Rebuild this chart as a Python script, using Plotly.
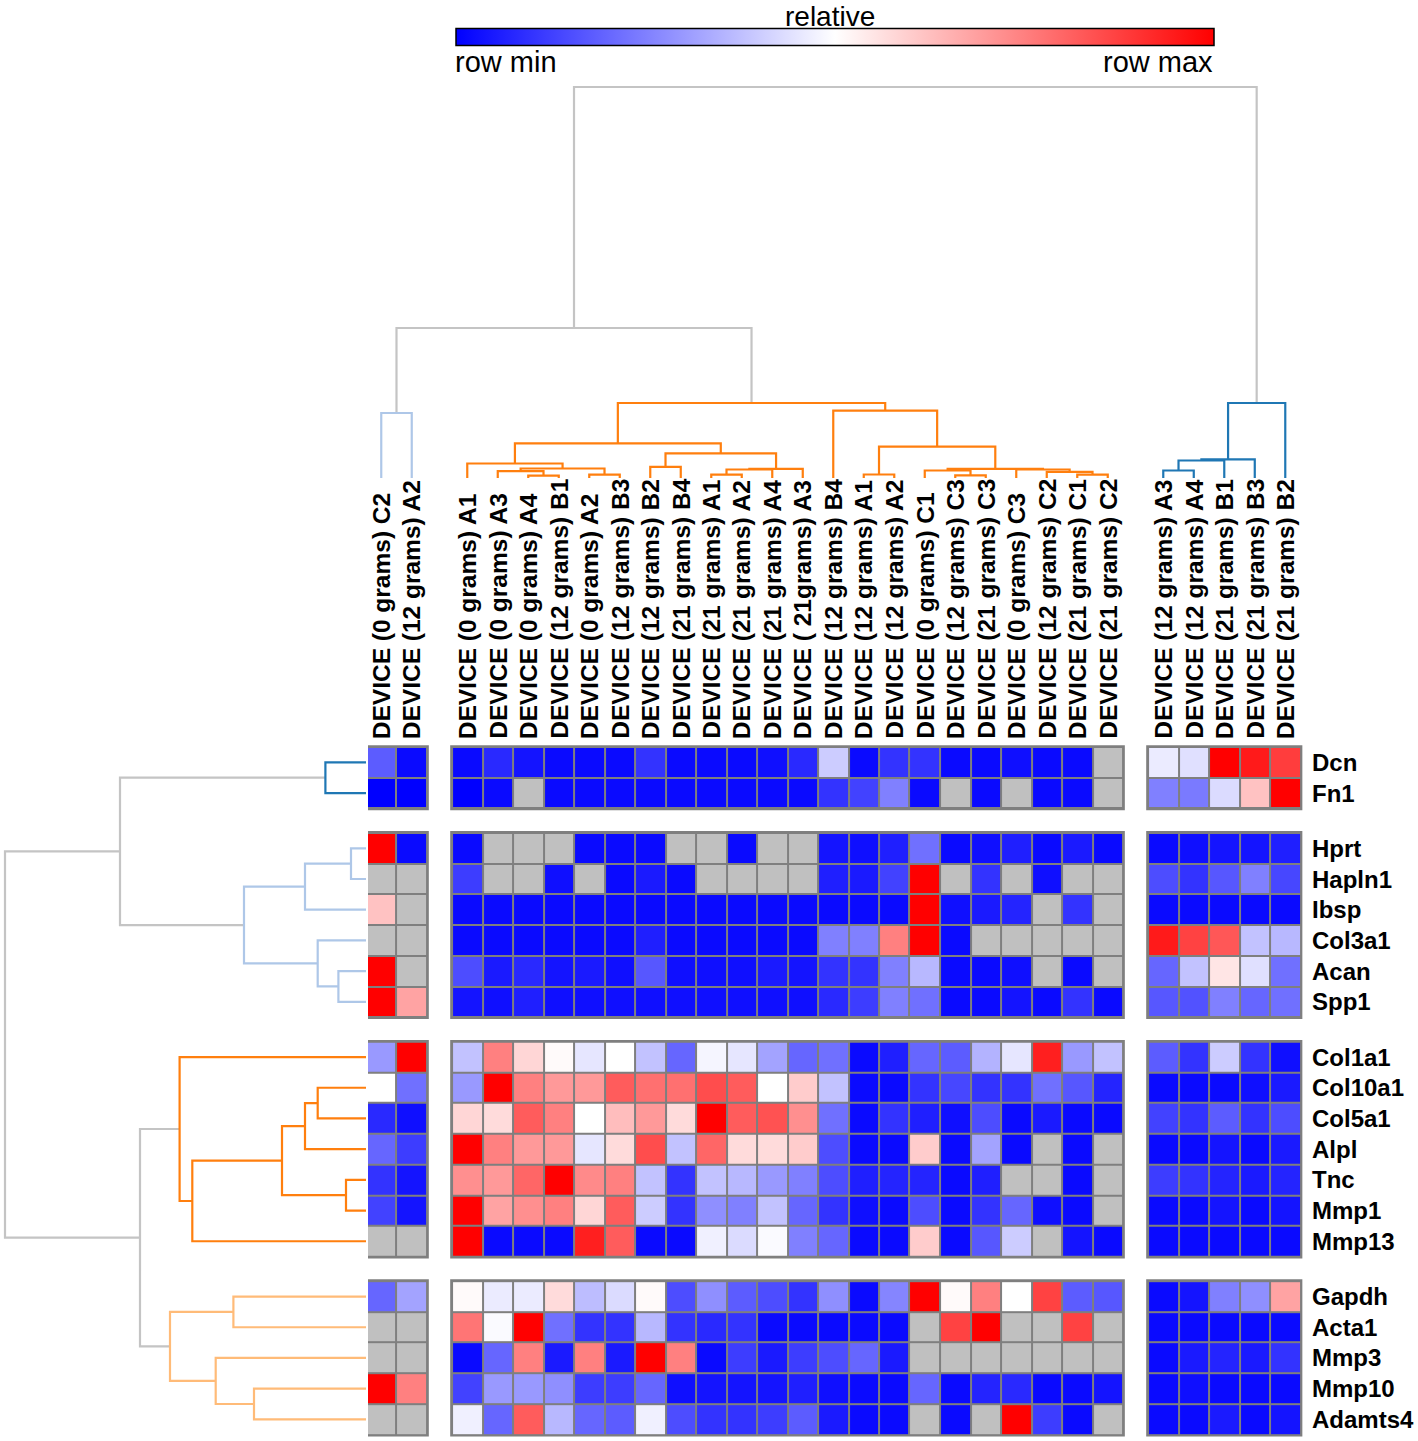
import plotly.graph_objects as go

W, H = 1418, 1441
N = None

# ---------------- data ----------------
samples = [
    "DEVICE (0 grams) C2", "DEVICE (12 grams) A2",
    "DEVICE (0 grams) A1", "DEVICE (0 grams) A3", "DEVICE (0 grams) A4", "DEVICE (12 grams) B1",
    "DEVICE (0 grams) A2", "DEVICE (12 grams) B3", "DEVICE (12 grams) B2", "DEVICE (21 grams) B4",
    "DEVICE (21 grams) A1", "DEVICE (21 grams) A2", "DEVICE (21 grams) A4", "DEVICE ( 21grams) A3",
    "DEVICE (12 grams) B4", "DEVICE (12 grams) A1", "DEVICE (12 grams) A2", "DEVICE (0 grams) C1",
    "DEVICE (12 grams) C3", "DEVICE (21 grams) C3", "DEVICE (0 grams) C3", "DEVICE (12 grams) C2",
    "DEVICE (21 grams) C1", "DEVICE (21 grams) C2",
    "DEVICE (12 grams) A3", "DEVICE (12 grams) A4", "DEVICE (21 grams) B1", "DEVICE (21 grams) B3",
    "DEVICE (21 grams) B2",
]
col_group = [0] * 2 + [1] * 22 + [2] * 5

genes = ["Dcn", "Fn1", "Hprt", "Hapln1", "Ibsp", "Col3a1", "Acan", "Spp1",
         "Col1a1", "Col10a1", "Col5a1", "Alpl", "Tnc", "Mmp1", "Mmp13",
         "Gapdh", "Acta1", "Mmp3", "Mmp10", "Adamts4"]
row_group = [0] * 2 + [1] * 6 + [2] * 7 + [3] * 5

# relative expression (0 = row min, 1 = row max, None = missing)
dcn = [0.18, 0.02, 0.02, 0.08, 0.04, 0.02, 0.02, 0.02, 0.1, 0.02, 0.02, 0.02, 0.03, 0.08, 0.4, 0.02,
       0.1, 0.1, 0.02, 0.02, 0.03, 0.02, 0.02, N, 0.46, 0.44, 1.0, 0.95, 0.88]
fn1 = [0.0, 0.0, 0.0, 0.02, N, 0.02, 0.02, 0.02, 0.02, 0.02, 0.02, 0.02, 0.02, 0.02, 0.1, 0.13,
       0.25, 0.02, N, 0.02, N, 0.02, 0.02, N, 0.25, 0.24, 0.43, 0.62, 1.0]
hprt = [1.0, 0.02, 0.02, N, N, N, 0.02, 0.02, 0.02, N, N, 0.02, N, N, 0.04, 0.03, 0.06, 0.22,
        0.02, 0.03, 0.06, 0.02, 0.05, 0.02, 0.02, 0.03, 0.04, 0.04, 0.06]
hapln1 = [N, N, 0.12, N, N, 0.03, N, 0.02, 0.05, 0.02, N, N, N, N, 0.06, 0.05, 0.13, 1.0, N, 0.1,
          N, 0.03, N, N, 0.15, 0.1, 0.17, 0.25, 0.14]
ibsp = [0.62, N, 0.02, 0.02, 0.02, 0.02, 0.02, 0.02, 0.02, 0.02, 0.02, 0.02, 0.02, 0.02, 0.02,
        0.02, 0.02, 1.0, 0.03, 0.05, 0.07, N, 0.1, N, 0.02, 0.02, 0.02, 0.02, 0.02]
col3a1 = [N, N, 0.02, 0.02, 0.02, 0.02, 0.02, 0.02, 0.06, 0.02, 0.02, 0.02, 0.02, 0.02, 0.25, 0.25,
          0.75, 1.0, 0.02, N, N, N, N, N, 0.95, 0.87, 0.83, 0.38, 0.36]
acan = [1.0, N, 0.15, 0.05, 0.08, 0.04, 0.05, 0.03, 0.17, 0.03, 0.03, 0.03, 0.05, 0.04, 0.1, 0.1,
        0.25, 0.36, 0.02, 0.02, 0.03, N, 0.02, N, 0.2, 0.38, 0.55, 0.44, 0.22]
spp1 = [1.0, 0.68, 0.04, 0.03, 0.06, 0.03, 0.03, 0.03, 0.03, 0.03, 0.03, 0.03, 0.03, 0.03, 0.08,
        0.12, 0.25, 0.22, 0.02, 0.02, 0.04, 0.02, 0.1, 0.02, 0.17, 0.16, 0.25, 0.2, 0.22]
col1a1 = [0.3, 1.0, 0.38, 0.75, 0.58, 0.51, 0.45, 0.5, 0.38, 0.2, 0.48, 0.45, 0.32, 0.2, 0.22, 0.02,
          0.06, 0.2, 0.18, 0.35, 0.45, 0.94, 0.3, 0.38, 0.18, 0.1, 0.4, 0.1, 0.03]
col10a1 = [0.5, 0.22, 0.3, 1.0, 0.75, 0.7, 0.7, 0.82, 0.78, 0.78, 0.85, 0.82, 0.5, 0.6, 0.38, 0.02,
           0.02, 0.1, 0.14, 0.1, 0.1, 0.22, 0.17, 0.07, 0.02, 0.02, 0.02, 0.03, 0.05]
col5a1 = [0.08, 0.03, 0.58, 0.57, 0.82, 0.75, 0.5, 0.63, 0.7, 0.57, 1.0, 0.82, 0.84, 0.72, 0.22,
          0.02, 0.1, 0.06, 0.03, 0.15, 0.02, 0.05, 0.02, 0.02, 0.13, 0.1, 0.18, 0.1, 0.15]
alpl = [0.2, 0.12, 1.0, 0.75, 0.7, 0.7, 0.45, 0.57, 0.85, 0.38, 0.8, 0.57, 0.57, 0.6, 0.15, 0.02,
        0.02, 0.6, 0.02, 0.32, 0.02, N, 0.02, N, 0.02, 0.02, 0.04, 0.02, 0.05]
tnc = [0.1, 0.04, 0.72, 0.7, 0.8, 1.0, 0.73, 0.75, 0.38, 0.1, 0.38, 0.36, 0.3, 0.25, 0.15, 0.06,
       0.07, 0.07, 0.02, 0.06, N, N, 0.02, N, 0.12, 0.1, 0.07, 0.05, 0.07]
mmp1 = [0.13, 0.04, 1.0, 0.68, 0.72, 0.75, 0.58, 0.82, 0.4, 0.1, 0.28, 0.25, 0.38, 0.2, 0.1, 0.03,
        0.02, 0.15, 0.02, 0.1, 0.2, 0.03, 0.02, N, 0.02, 0.02, 0.04, 0.02, 0.04]
mmp13 = [N, N, 1.0, 0.02, 0.02, 0.02, 0.94, 0.82, 0.02, 0.02, 0.47, 0.43, 0.49, 0.25, 0.2, 0.02,
         0.02, 0.6, 0.02, 0.17, 0.4, N, 0.04, 0.02, 0.02, 0.02, 0.02, 0.02, 0.02]
gapdh = [0.2, 0.32, 0.51, 0.46, 0.46, 0.57, 0.37, 0.43, 0.51, 0.15, 0.28, 0.18, 0.15, 0.1, 0.28,
         0.02, 0.26, 1.0, 0.51, 0.75, 0.5, 0.87, 0.18, 0.17, 0.02, 0.04, 0.25, 0.28, 0.68]
acta1 = [N, N, 0.77, 0.49, 1.0, 0.22, 0.1, 0.1, 0.36, 0.1, 0.08, 0.1, 0.02, 0.02, 0.02, 0.02, 0.02,
         N, 0.87, 1.0, N, N, 0.87, N, 0.02, 0.02, 0.02, 0.02, 0.02]
mmp3 = [N, N, 0.02, 0.2, 0.75, 0.05, 0.75, 0.05, 1.0, 0.75, 0.02, 0.12, 0.05, 0.12, 0.15, 0.2, 0.05,
        N, N, N, N, N, N, N, 0.02, 0.05, 0.07, 0.05, 0.1]
mmp10 = [1.0, 0.75, 0.13, 0.3, 0.3, 0.28, 0.12, 0.12, 0.2, 0.03, 0.04, 0.04, 0.04, 0.06, 0.03, 0.02,
         0.02, 0.2, 0.02, 0.07, 0.08, 0.02, 0.02, 0.04, 0.02, 0.03, 0.02, 0.02, 0.02]
adamts4 = [N, N, 0.47, 0.2, 0.82, 0.36, 0.2, 0.18, 0.47, 0.15, 0.1, 0.1, 0.12, 0.18, 0.05, 0.02,
           0.02, N, 0.02, N, 1.0, 0.12, 0.02, N, 0.02, 0.02, 0.05, 0.02, 0.04]

rows = [dcn, fn1, hprt, hapln1, ibsp, col3a1, acan, spp1, col1a1, col10a1, col5a1, alpl, tnc,
        mmp1, mmp13, gapdh, acta1, mmp3, mmp10, adamts4]

# dendrograms: [height, left, right, cluster]; int = leaf index
col_tree = [391,
            [150,
             [65, 0, 1, "lb"],
             [75,
              [34.7,
               [14.5, 2, [9.5, [6.8, 3, [2.4, 4, 5, "o"], "o"], [3.4, 6, 7, "o"], "o"], "o"],
               [24.6, [11.2, 8, 9, "o"],
                [9.1, [8.5, [3.4, 10, 11, "o"], 12, "o"], 13, "o"], "o"], "o"],
              [67.3, 14,
               [31.3, [3.5, 15, 16, "o"],
                [9.1, [7.5, 17, [2.7, 18, 19, "o"], "o"],
                 [8.5, 20, [6.1, 21, [3.4, 22, 23, "o"], "o"], "o"], "o"], "o"], "o"], "o"],
             "g"],
            [75, [18.6, [17.5, [7.5, 24, 25, "b"], 26, "b"], 27, "b"], 28, "b"],
            "g"]

row_tree = [361,
            [246,
             [40.6, 0, 1, "b"],
             [122, [61, [15, 2, 3, "lb"], 4, "lb"], [48.3, 5, [27.6, 6, 7, "lb"], "lb"], "lb"],
             "g"],
            [226,
             [186.4, 8, [173.7, [84, [61, [48.3, 9, 10, "o"], 11, "o"], [20, 12, 13, "o"], "o"],
                         14, "o"], "o"],
             [196, [132.6, 15, 16, "lo"], [150.3, 17, [112, 18, 19, "lo"], "lo"], "lo"],
             "g"],
            "g"]

# ---------------- style / geometry ----------------
COLORS = {"g": "#c4c4c4", "lb": "#aec7e8", "o": "#ff7f0e", "b": "#1f77b4", "lo": "#ffbb78"}
CELL_W, CELL_H = 30.5, 30.7
GAP_X, GAP_Y = 0.82, 0.8
HM_LEFT, HM_TOP = 366, 747
PAD = 0.1
LABEL_FONT = "Liberation Sans, Arial, sans-serif"
NARROW_FONT = "Liberation Sans Narrow, Arial Narrow, Liberation Sans, Arial, sans-serif"

xpos = [i + GAP_X * g for i, g in enumerate(col_group)]
ypos = [r + GAP_Y * g for r, g in enumerate(row_group)]
x_lo, x_hi = -0.5 - PAD, xpos[-1] + 0.5 + PAD
y_lo, y_hi = -0.5 - PAD, ypos[-1] + 0.5 + PAD
xdom = [(HM_LEFT + (x_lo + 0.5) * CELL_W) / W, (HM_LEFT + (x_hi + 0.5) * CELL_W) / W]
ytop_px = HM_TOP + (y_lo + 0.5) * CELL_H
ybot_px = min(HM_TOP + (y_hi + 0.5) * CELL_H, H)
ydom = [max(0.0, 1 - ybot_px / H), 1 - ytop_px / H]

colorscale = [[0, "#0000ff"], [0.5, "#ffffff"], [1, "#ff0000"]]

fig = go.Figure()
shapes = []
first = True
for cg in sorted(set(col_group)):
    cidx = [i for i, g in enumerate(col_group) if g == cg]
    for rg in sorted(set(row_group)):
        ridx = [r for r, g in enumerate(row_group) if g == rg]
        xs = [xpos[c] for c in cidx]
        ys = [ypos[r] for r in ridx]
        z = [[rows[r][c] for c in cidx] for r in ridx]
        zm = [[1 if rows[r][c] is None else None for c in cidx] for r in ridx]
        e = 0.06
        shapes.append(dict(type="rect", xref="x", yref="y", layer="below",
                           x0=xs[0] - 0.5 - e, x1=xs[-1] + 0.5 + e,
                           y0=ys[0] - 0.5 - e, y1=ys[-1] + 0.5 + e,
                           fillcolor="#7f7f7f", line=dict(width=0)))
        tr = dict(x=xs, y=ys, z=z, zmin=0, zmax=1, colorscale=colorscale, xgap=2, ygap=2,
                  hoverinfo="skip", showscale=first)
        if first:
            tr["colorbar"] = dict(orientation="h", x=835 / W, xanchor="center", y=1 - 47 / H,
                                  yanchor="bottom", len=758 / W, lenmode="fraction",
                                  thickness=17, thicknessmode="pixels", outlinewidth=1.5,
                                  outlinecolor="black", showticklabels=False, ticks="",
                                  xpad=0, ypad=0, borderwidth=0)
            first = False
        fig.add_trace(go.Heatmap(**tr))
        fig.add_trace(go.Heatmap(x=xs, y=ys, z=zm, zmin=0, zmax=1,
                                 colorscale=[[0, "#c0c0c0"], [1, "#c0c0c0"]],
                                 xgap=2, ygap=2, showscale=False, hoverinfo="skip"))


def walk(node, leafpos, segs):
    if isinstance(node, int):
        return leafpos[node], 0.0
    h, a, b, key = node
    pa, ha = walk(a, leafpos, segs)
    pb, hb = walk(b, leafpos, segs)
    segs.setdefault(key, []).append([(pa, ha), (pa, h), (pb, h), (pb, hb)])
    return (pa + pb) / 2, h


def add_dendro(tree, leafpos, xa, ya, horizontal):
    segs = {}
    walk(tree, leafpos, segs)
    for key in ["g", "lb", "b", "lo", "o"]:
        if key not in segs:
            continue
        px, py = [], []
        for seg in segs[key]:
            for p, h in seg:
                if horizontal:
                    px.append(p); py.append(h)
                else:
                    px.append(h); py.append(p)
            px.append(None); py.append(None)
        fig.add_trace(go.Scatter(x=px, y=py, mode="lines", xaxis=xa, yaxis=ya,
                                 line=dict(color=COLORS[key], width=2.2),
                                 hoverinfo="skip", showlegend=False))


add_dendro(col_tree, xpos, "x2", "y2", True)
add_dendro(row_tree, ypos, "x3", "y3", False)

annotations = []
for c, s in enumerate(samples):
    annotations.append(dict(x=xpos[c], xref="x", y=1 - 741 / H, yref="paper", text="<b>" + s + "</b>",
                            textangle=-90, xanchor="center", yanchor="bottom", showarrow=False,
                            font=dict(family=LABEL_FONT, size=24.5, color="black")))
for r, g in enumerate(genes):
    annotations.append(dict(x=1310 / W, xref="paper", y=ypos[r], yref="y", text="<b>" + g + "</b>",
                            xanchor="left", yanchor="middle", showarrow=False,
                            font=dict(family=LABEL_FONT, size=24, color="black")))
annotations.append(dict(x=830 / W, xref="paper", y=1 - 17 / H, yref="paper", text="relative",
                        xanchor="center", yanchor="middle", showarrow=False,
                        font=dict(family=NARROW_FONT, size=28, color="black")))
annotations.append(dict(x=453 / W, xref="paper", y=1 - 62 / H, yref="paper", text="row min",
                        xanchor="left", yanchor="middle", showarrow=False,
                        font=dict(family=NARROW_FONT, size=29, color="black")))
annotations.append(dict(x=1215 / W, xref="paper", y=1 - 62 / H, yref="paper", text="row max",
                        xanchor="right", yanchor="middle", showarrow=False,
                        font=dict(family=NARROW_FONT, size=29, color="black")))

hidden = dict(visible=False, showgrid=False, zeroline=False, fixedrange=True)
fig.update_layout(
    width=W, height=H, margin=dict(l=0, r=0, t=0, b=0),
    paper_bgcolor="white", plot_bgcolor="white", showlegend=False,
    xaxis=dict(domain=xdom, range=[x_lo, x_hi], anchor="y", **hidden),
    yaxis=dict(domain=ydom, range=[y_hi, y_lo], anchor="x", **hidden),
    xaxis2=dict(domain=xdom, range=[x_lo, x_hi], anchor="y2", **hidden),
    yaxis2=dict(domain=[1 - 481 / H, 1 - 83 / H], range=[-3, 395], anchor="x2", **hidden),
    xaxis3=dict(domain=[2 / W, 368 / W], range=[364, -2], anchor="y3", **hidden),
    yaxis3=dict(domain=ydom, range=[y_hi, y_lo], anchor="x3", **hidden),
    shapes=shapes, annotations=annotations,
)

fig.write_html("out.html", config={"displayModeBar": False},
               post_script="document.body.style.margin='0';document.body.style.overflow='hidden';")
